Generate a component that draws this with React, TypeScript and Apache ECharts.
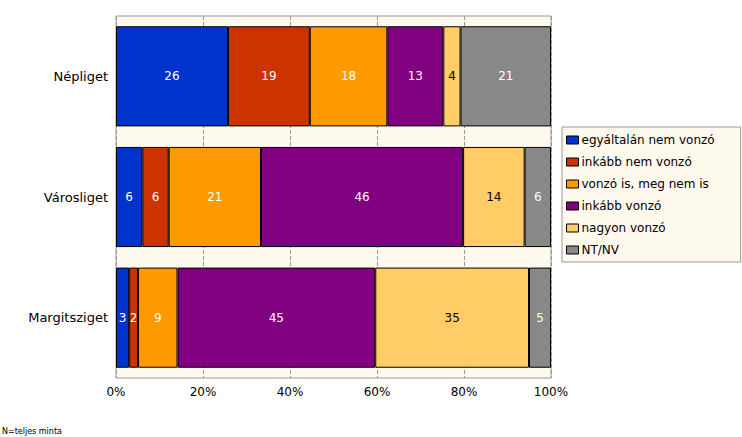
import React, { useEffect, useRef } from "react";
import * as echarts from "echarts";

const categories = ["Népliget", "Városliget", "Margitsziget"];
const seriesNames = [
  "egyáltalán nem vonzó",
  "inkább nem vonzó",
  "vonzó is, meg nem is",
  "inkább vonzó",
  "nagyon vonzó",
  "NT/NV",
];
const egyaltalanNem = [26, 6, 3];
const inkabbNem = [19, 6, 2];
const vonzoIsNemIs = [18, 21, 9];
const inkabbVonzo = [13, 46, 45];
const nagyonVonzo = [4, 14, 35];
const ntnv = [21, 6, 5];
const xTicks = ["0%", "20%", "40%", "60%", "80%", "100%"];
const footnote = "N=teljes minta";

const colors = ["#0033CC", "#CC3300", "#FF9900", "#800080", "#FFCC66", "#888888"];
const labelColors = ["#fff", "#fff", "#fff", "#fff", "#000", "#fff"];

export default function App() {
  const ref = useRef<HTMLDivElement>(null);
  useEffect(() => {
    const chart = echarts.init(ref.current!, null, { renderer: "svg" });
    const all = [egyaltalanNem, inkabbNem, vonzoIsNemIs, inkabbVonzo, nagyonVonzo, ntnv];
    const totals = categories.map((_, i) => all.reduce((s, a) => s + a[i], 0));
    const series = all.map((arr, si) => ({
      name: seriesNames[si],
      type: "bar",
      stack: "total",
      barCategoryGap: "17%",
      data: arr.map((v, i) => ({ value: (v / totals[i]) * 100, raw: v })),
      itemStyle: { color: colors[si], borderColor: "#000", borderWidth: 1 },
      label: {
        show: true,
        position: "inside",
        color: labelColors[si],
        fontFamily: "DejaVu Sans",
        fontSize: 12,
        formatter: (p: any) => String(p.data.raw),
      },
    }));
    chart.setOption({
      animation: false,
      backgroundColor: "#fff",
      grid: {
        left: 116,
        right: 191,
        top: 16,
        bottom: 59,
        show: true,
        backgroundColor: "#FFF9EE",
        borderColor: "#999",
        borderWidth: 1,
      },
      legend: {
        orient: "vertical",
        left: 562,
        top: 127,
        data: seriesNames,
        backgroundColor: "#FFF9EE",
        borderColor: "#999",
        borderWidth: 1,
        padding: [6, 26, 5, 4],
        itemWidth: 12,
        itemHeight: 8,
        itemGap: 8,
        icon: "rect",
        itemStyle: { borderColor: "#000", borderWidth: 1 },
        textStyle: { fontFamily: "DejaVu Sans", fontSize: 12, color: "#000", lineHeight: 14, padding: [0, 0, 0, -2] },
      },
      xAxis: {
        type: "value",
        min: 0,
        max: 100,
        interval: 20,
        axisLine: { show: false },
        axisTick: { show: false },
        splitLine: { show: true, lineStyle: { color: "#999", type: "dashed" } },
        axisLabel: {
          margin: 8,
          fontFamily: "DejaVu Sans",
          fontSize: 12,
          color: "#000",
          formatter: (v: number) => xTicks[Math.round(v / 20)],
        },
      },
      yAxis: {
        type: "category",
        data: categories,
        inverse: true,
        axisLine: { show: false },
        axisTick: { show: false },
        axisLabel: { margin: 8, fontFamily: "DejaVu Sans", fontSize: 13, color: "#000" },
      },
      graphic: [
        {
          type: "text",
          left: 2,
          top: 427,
          style: { text: footnote, fontFamily: "DejaVu Sans", fontSize: 8, fill: "#000" },
        },
      ],
      series,
    });
    return () => chart.dispose();
  }, []);
  return <div ref={ref} style={{ position: "fixed", left: 0, top: 0, width: 742, height: 437 }} />;
}
